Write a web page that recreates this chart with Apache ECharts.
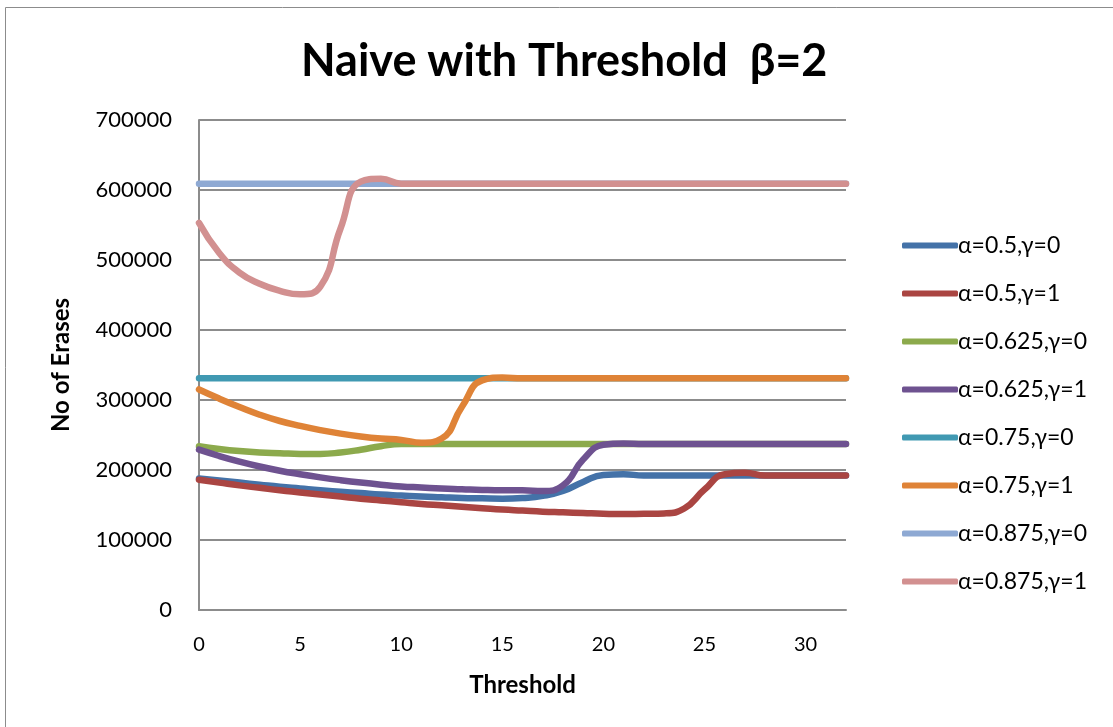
<!DOCTYPE html>
<html>
<head>
<meta charset="utf-8">
<title>Naive with Threshold β=2</title>
<script src="https://cdn.jsdelivr.net/npm/echarts@6/dist/echarts.min.js"></script>
<style>
  html, body { margin: 0; padding: 0; background: #ffffff; }
  #chart { width: 1113px; height: 727px; }
</style>
</head>
<body>
<div id="chart"></div>
<script>
// Threshold values on the x axis (0 .. 32)
const thresholds = [0,1,2,3,4,5,6,7,8,9,10,11,12,13,14,15,16,17,18,19,20,21,22,23,24,25,26,27,28,29,30,31,32];

const seriesNames = [
  'α=0.5,γ=0', 'α=0.5,γ=1', 'α=0.625,γ=0', 'α=0.625,γ=1',
  'α=0.75,γ=0', 'α=0.75,γ=1', 'α=0.875,γ=0', 'α=0.875,γ=1'
];

// Number of erases per threshold, one array per (α, γ) setting
const a050g0 = [188000,185000,182000,179000,176000,173500,171000,169000,167000,165000,163500,162000,161000,160000,159500,159000,160000,163000,170000,183000,193000,194000,192000,192000,192000,192000,192000,192000,192000,192000,192000,192000,192000];
const a050g1 = [186000,182000,178000,174500,171000,168000,165000,162000,159000,156500,154000,151500,149500,147500,145500,143500,142000,140500,139500,138500,137500,137000,137500,138000,145000,172000,194000,196000,192000,192000,192000,192000,192000];
const a0625g0 = [234000,230000,227000,225000,224000,223000,223000,225000,229000,234000,237000,237000,237000,237000,237000,237000,237000,237000,237000,237000,237000,237000,237000,237000,237000,237000,237000,237000,237000,237000,237000,237000,237000];
const a0625g1 = [229000,220000,212000,205000,199000,194000,189500,185500,182000,179000,176500,175000,173500,172500,171500,171000,171000,170000,178000,215000,236000,238000,237000,237000,237000,237000,237000,237000,237000,237000,237000,237000,237000];
const a075g0 = [331000,331000,331000,331000,331000,331000,331000,331000,331000,331000,331000,331000,331000,331000,331000,331000,331000,331000,331000,331000,331000,331000,331000,331000,331000,331000,331000,331000,331000,331000,331000,331000,331000];
const a075g1 = [315000,302000,290000,279000,270000,263000,257000,252000,248000,245000,243000,239000,245000,290000,328000,332000,331000,331000,331000,331000,331000,331000,331000,331000,331000,331000,331000,331000,331000,331000,331000,331000,331000];
const a0875g0 = [609000,609000,609000,609000,609000,609000,609000,609000,609000,609000,609000,609000,609000,609000,609000,609000,609000,609000,609000,609000,609000,609000,609000,609000,609000,609000,609000,609000,609000,609000,609000,609000,609000];
const a0875g1 = [553000,510000,482000,466000,456000,451000,462000,545000,612000,616000,609000,609000,609000,609000,609000,609000,609000,609000,609000,609000,609000,609000,609000,609000,609000,609000,609000,609000,609000,609000,609000,609000,609000];

const allValues = [a050g0, a050g1, a0625g0, a0625g1, a075g0, a075g1, a0875g0, a0875g1];
const colors = ['#4472A8', '#AA4542', '#8CAA4C', '#6E5290', '#4099B2', '#DF8337', '#8EA9D3', '#D29090'];

const FONT = 'Lato, "Open Sans", "DejaVu Sans", sans-serif';

const chart = echarts.init(document.getElementById('chart'), null, { renderer: 'canvas' });

chart.setOption({
  backgroundColor: '#ffffff',
  animation: false,
  title: {
    text: 'Naive with Threshold  β=2',
    left: 296,
    top: 34,
    textStyle: { fontFamily: FONT, fontSize: 45, fontWeight: 'bold', color: '#000' }
  },
  graphic: [{
    type: 'rect',
    shape: { x: 5.5, y: 7.5, width: 1300, height: 900 },
    style: { fill: 'none', stroke: '#8c8c8c', lineWidth: 1 },
    silent: true
  }],
  legend: {
    orient: 'vertical',
    left: 897,
    top: 229,
    itemWidth: 56,
    itemHeight: 6,
    itemGap: 25,
    icon: 'roundRect',
    textStyle: { fontFamily: FONT, fontSize: 23, lineHeight: 20, color: '#000', padding: [0, 0, 0, -5] },
    data: seriesNames
  },
  grid: { left: 199, right: 267, top: 120, bottom: 117, containLabel: false },
  xAxis: {
    type: 'value',
    min: 0,
    max: 32,
    interval: 5,
    name: 'Threshold',
    nameLocation: 'middle',
    nameGap: 63,
    nameTextStyle: { fontFamily: FONT, fontSize: 24, fontWeight: 'bold', color: '#000' },
    axisLine: { show: true, lineStyle: { color: '#8c8c8c', width: 2 } },
    axisTick: { show: false },
    splitLine: { show: false },
    axisLabel: { fontFamily: FONT, fontSize: 20, color: '#000', margin: 25, showMaxLabel: false }
  },
  yAxis: {
    type: 'value',
    min: 0,
    max: 700000,
    interval: 100000,
    name: 'No of Erases',
    nameLocation: 'middle',
    nameGap: 126,
    nameTextStyle: { fontFamily: FONT, fontSize: 24, fontWeight: 'bold', color: '#000' },
    axisLine: { show: true, lineStyle: { color: '#8c8c8c', width: 2 } },
    axisTick: { show: false },
    splitLine: { show: true, lineStyle: { color: '#8c8c8c', width: 2 } },
    axisLabel: { fontFamily: FONT, fontSize: 22, color: '#000', margin: 27, formatter: v => String(v) }
  },
  series: seriesNames.map((name, i) => ({
    name: name,
    type: 'line',
    smooth: 0.5,
    showSymbol: false,
    symbol: 'none',
    lineStyle: { width: 6.5, color: colors[i], cap: 'round' },
    itemStyle: { color: colors[i] },
    data: thresholds.map((t, k) => [t, allValues[i][k]])
  }))
});
</script>
</body>
</html>
